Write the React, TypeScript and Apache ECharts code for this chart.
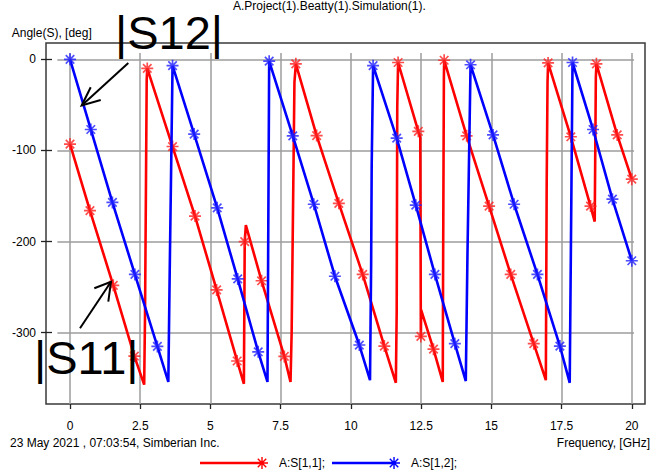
import React, { useEffect, useRef } from 'react';
import * as echarts from 'echarts';

const FONT = '"Liberation Sans", Arial, Helvetica, sans-serif';

// Axis scales and tick positions
const freqTicks = [0, 2.5, 5, 7.5, 10, 12.5, 15, 17.5, 20];
const angleTicks = [0, -100, -200, -300];
const freqRange = [-0.855, 20.47];
const angleRange = [-378.2, 17.9];
// Extent of the inner grid lines (in axis units)
const hGridSpan = [-0.45, 20.08];
const vGridSpan = [-378.2, 6.9];

// Phase of S11, [GHz, deg]
const s11Line = [
  [0, -93], [0.71, -166], [1.54, -248], [2.29, -325.6], [2.64, -357], [2.67, -282], [2.7, -154],
  [2.73, -22], [2.75, -10], [3.65, -95.7], [4.45, -172], [5.22, -253], [5.95, -331], [6.19, -356],
  [6.22, -200], [6.26, -182], [6.82, -243], [7.63, -326], [7.85, -354], [7.89, -300], [7.99, -25],
  [8.04, -5], [8.78, -83.7], [9.57, -158], [10.42, -236], [11.19, -314.6], [11.6, -355], [11.63, -277],
  [11.65, -52], [11.68, -3.5], [12.4, -79], [12.47, -86], [12.49, -306], [12.5, -275], [12.94, -318],
  [13.27, -354], [13.28, -248], [13.31, -20], [13.32, -1], [14.12, -84], [14.92, -161], [15.69, -236],
  [16.51, -312], [16.94, -352], [16.97, -136], [17.0, -25], [17.02, -4], [17.83, -85], [18.53, -161],
  [18.68, -178], [18.72, -20], [18.74, -5], [19.48, -83], [20, -131.5],
];
const s11Marks = [
  [0, -93], [0.71, -166], [1.54, -248], [2.29, -325.6], [2.75, -10], [3.65, -95.7], [4.45, -172],
  [5.22, -253], [5.95, -331], [6.22, -200], [6.82, -243], [7.63, -326], [8.04, -5], [8.78, -83.7],
  [9.57, -158], [10.42, -236], [11.19, -314.6], [11.68, -3.5], [12.4, -79], [12.49, -304], [12.94, -318],
  [13.32, -1], [14.12, -84], [14.92, -161], [15.69, -236], [16.51, -312], [17.02, -4], [17.83, -85],
  [18.53, -161], [18.74, -5], [19.48, -83], [20, -131.5],
];

// Phase of S12, [GHz, deg]
const s12Line = [
  [0, 0], [0.74, -77], [1.51, -157], [2.31, -236], [3.11, -315], [3.5, -354], [3.55, -231], [3.6, -120],
  [3.65, -7], [4.42, -82], [5.24, -163], [5.97, -241], [6.7, -321], [7.03, -354], [7.09, -2], [7.93, -84],
  [8.68, -159], [9.43, -238], [10.3, -313.5], [10.68, -352], [10.72, -226], [10.74, -116], [10.79, -7],
  [11.63, -86.5], [12.31, -160], [12.99, -236], [13.7, -312], [14.09, -353], [14.15, -213], [14.26, -6],
  [15.06, -83], [15.81, -159], [16.64, -236], [17.44, -314.6], [17.79, -355], [17.89, -3.5], [18.62, -77],
  [19.31, -153.5], [20, -221],
];
const s12Marks = [
  [0, 0], [0.74, -77], [1.51, -157], [2.31, -236], [3.11, -315], [3.65, -7], [4.42, -82], [5.24, -163],
  [5.97, -241], [6.7, -321], [7.09, -2], [7.93, -84], [8.68, -159], [9.43, -238], [10.3, -313.5],
  [10.79, -7], [11.63, -86.5], [12.31, -160], [12.99, -236], [13.7, -312], [14.26, -6], [15.06, -83],
  [15.81, -159], [16.64, -236], [17.44, -314.6], [17.89, -3.5], [18.62, -77], [19.31, -153.5], [20, -221],
];

const seriesNames = ['A:S[1,1];', 'A:S[1,2];'];
const seriesColors = ['#ff0000', '#0000ff'];

// Eight-armed asterisk marker
const STAR =
  'path://M4.3 0H5.7V10H4.3Z M0 4.3H10V5.7H0Z ' +
  'M0.965 1.955L1.955 0.965L9.035 8.045L8.045 9.035Z M8.045 0.965L9.035 1.955L1.955 9.035L0.965 8.045Z';

// Legend sample: a line ending in the asterisk
const LEGEND_ICON =
  'path://M0 4.7H62V7.3H0Z M61.3 0H62.7V12H61.3Z M56 5.3H68V6.7H56Z ' +
  'M57.26 2.26L58.26 1.26L66.74 9.74L65.74 10.74Z M65.74 1.26L66.74 2.26L58.26 10.74L57.26 9.74Z';

const gridData = [
  ...angleTicks.map((a) => ({ coords: [[hGridSpan[0], a], [hGridSpan[1], a]] })),
  ...freqTicks.map((f) => ({ coords: [[f, vGridSpan[0]], [f, vGridSpan[1]]] })),
];

const tickStyle = { color: '#222', width: 1.3 };

const text = (x: number, y: number, t: string, size = 12, align = 'left') => ({
  type: 'text',
  x,
  y,
  z: 100,
  style: {
    text: t,
    fontSize: size,
    fontFamily: FONT,
    fill: '#000',
    align,
    verticalAlign: 'middle',
  },
});

const arrow = (pts: number[][]) => ({
  type: 'polyline',
  z: 100,
  shape: { points: pts },
  style: { stroke: '#000', lineWidth: 2, fill: null },
});

const option: any = {
  animation: false,
  backgroundColor: '#ffffff',
  textStyle: { fontFamily: FONT },
  grid: {
    left: 46,
    top: 43,
    width: 599,
    height: 361,
    show: true,
    borderColor: '#3a3a3a',
    borderWidth: 1.5,
    backgroundColor: 'transparent',
    containLabel: false,
  },
  xAxis: {
    type: 'value',
    min: freqRange[0],
    max: freqRange[1],
    position: 'bottom',
    axisLine: { show: false, onZero: false },
    splitLine: { show: false },
    axisTick: { show: true, customValues: freqTicks, length: 5, lineStyle: tickStyle },
    axisLabel: {
      customValues: freqTicks,
      margin: 16,
      color: '#000',
      fontSize: 12,
      fontFamily: FONT,
      formatter: (v: number) => String(v),
    },
  },
  yAxis: [
    {
      type: 'value',
      min: angleRange[0],
      max: angleRange[1],
      position: 'left',
      axisLine: { show: false, onZero: false },
      splitLine: { show: false },
      axisTick: { show: true, customValues: angleTicks, length: 5, lineStyle: tickStyle },
      axisLabel: {
        customValues: angleTicks,
        margin: 10,
        color: '#000',
        fontSize: 12,
        fontFamily: FONT,
        formatter: (v: number) => String(v),
      },
    },
    {
      type: 'value',
      min: angleRange[0],
      max: angleRange[1],
      position: 'left',
      axisLine: { show: false, onZero: false },
      splitLine: { show: false },
      axisTick: { show: true, inside: true, customValues: angleTicks, length: 6, lineStyle: tickStyle },
      axisLabel: { show: false },
    },
  ],
  legend: {
    left: 200,
    top: 457,
    padding: 0,
    itemWidth: 68,
    itemHeight: 12,
    itemGap: 7,
    selectedMode: false,
    itemStyle: { borderWidth: 0 },
    textStyle: { fontSize: 12, color: '#000', fontFamily: FONT, padding: [0, 0, 0, 6] },
    data: seriesNames.map((name) => ({ name, icon: LEGEND_ICON })),
  },
  series: [
    {
      type: 'lines',
      coordinateSystem: 'cartesian2d',
      silent: true,
      z: 1,
      data: gridData,
      lineStyle: { color: '#9c9c9c', width: 1.5, opacity: 1, curveness: 0 },
    },
    {
      type: 'line',
      name: seriesNames[0],
      data: s11Line,
      color: seriesColors[0],
      symbol: 'none',
      showSymbol: false,
      lineStyle: { color: seriesColors[0], width: 2.6 },
      z: 3,
    },
    {
      type: 'scatter',
      name: seriesNames[0],
      data: s11Marks,
      symbol: STAR,
      symbolSize: 12,
      itemStyle: { color: '#ff2020' },
      z: 4,
    },
    {
      type: 'line',
      name: seriesNames[1],
      data: s12Line,
      color: seriesColors[1],
      symbol: 'none',
      showSymbol: false,
      lineStyle: { color: seriesColors[1], width: 2.6 },
      z: 5,
    },
    {
      type: 'scatter',
      name: seriesNames[1],
      data: s12Marks,
      symbol: STAR,
      symbolSize: 12,
      itemStyle: { color: '#2020ff' },
      z: 6,
    },
  ],
  graphic: [
    text(233, 6, 'A.Project(1).Beatty(1).Simulation(1).'),
    text(11.7, 32.7, 'Angle(S), [deg]'),
    text(115, 32, '|S12|', 47),
    text(34, 357, '|S11|', 47),
    text(10, 443, '23 May 2021 , 07:03:54, Simberian Inc.'),
    text(650, 443, 'Frequency, [GHz]', 12, 'right'),
    arrow([[128.3, 63], [81.7, 105.5]]),
    arrow([[100.7, 100], [81.7, 105.5], [90.7, 87.3]]),
    arrow([[80, 328.3], [111, 281.7]]),
    arrow([[94.3, 288.3], [111, 281.7], [108.3, 301.7]]),
  ],
};

export default function App() {
  const ref = useRef<HTMLDivElement>(null);

  useEffect(() => {
    const el = ref.current;
    if (!el) return;
    const chart = echarts.init(el, null, { renderer: 'svg' });
    chart.setOption(option);
    return () => chart.dispose();
  }, []);

  return (
    <div
      ref={ref}
      style={{ position: 'fixed', left: 0, top: 0, width: 652, height: 473, background: '#fff' }}
    />
  );
}
